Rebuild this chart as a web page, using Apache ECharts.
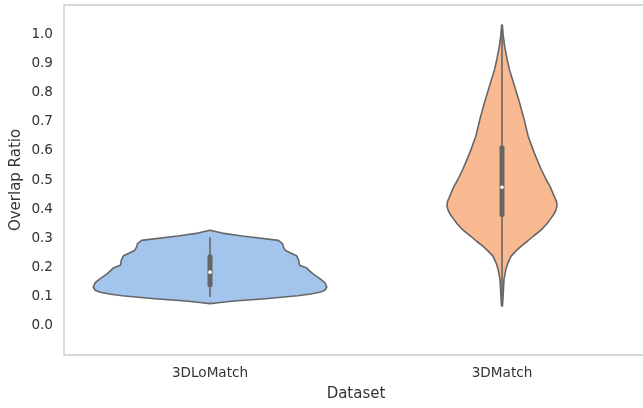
<!DOCTYPE html>
<html>
<head>
<meta charset="utf-8">
<script src="https://cdn.jsdelivr.net/npm/echarts@6/dist/echarts.min.js"></script>
<style>
html,body{margin:0;padding:0;background:#fff;}
#chart{width:643px;height:408px;}
</style>
</head>
<body>
<div id="chart"></div>
<script>
// ---- data ----
const categories = ['3DLoMatch', '3DMatch'];

// violin profiles: value (y) and relative density (half-width, 1 = widest)
const loMatchValues  = [0.076, 0.080, 0.085, 0.093, 0.103, 0.109, 0.116, 0.122, 0.133, 0.148, 0.162, 0.179, 0.198, 0.208, 0.225, 0.240, 0.250, 0.258, 0.270, 0.282, 0.293, 0.308, 0.318, 0.328];
const loMatchDensity = [0.000, 0.086, 0.207, 0.474, 0.750, 0.862, 0.948, 0.983, 1.000, 0.983, 0.940, 0.879, 0.828, 0.767, 0.759, 0.741, 0.690, 0.647, 0.629, 0.621, 0.586, 0.276, 0.103, 0.000];

const matchValues  = [0.068, 0.100, 0.159, 0.193, 0.215, 0.239, 0.256, 0.273, 0.290, 0.308, 0.322, 0.336, 0.350, 0.365, 0.380, 0.395, 0.410, 0.425, 0.440, 0.460, 0.479, 0.500, 0.536, 0.593, 0.650, 0.707, 0.764, 0.821, 0.878, 0.910, 0.935, 0.960, 1.000, 1.031];
const matchDensity = [0.004, 0.009, 0.017, 0.033, 0.050, 0.078, 0.118, 0.164, 0.218, 0.270, 0.315, 0.353, 0.385, 0.412, 0.440, 0.460, 0.471, 0.468, 0.452, 0.430, 0.410, 0.380, 0.336, 0.276, 0.224, 0.190, 0.151, 0.108, 0.064, 0.046, 0.034, 0.022, 0.009, 0.003];

// inner box statistics per category
const whiskerLow  = [0.099, 0.068];
const boxLow      = [0.133, 0.374];
const medians     = [0.184, 0.475];
const boxHigh     = [0.245, 0.618];
const whiskerHigh = [0.304, 1.031];

const yTickValues = [0.0, 0.1, 0.2, 0.3, 0.4, 0.5, 0.6, 0.7, 0.8, 0.9, 1.0];

// ---- styling ----
const fillColors = ['#a3c4ec', '#f9ba91'];
const edgeColor = '#666666';
const textColor = '#333333';
const FONT = 'DejaVu Sans';

const violinValues = [loMatchValues, matchValues];
const violinDensity = [loMatchDensity, matchDensity];

function renderViolin(params, api) {
  const i = api.value(0);
  const vals = violinValues[i];
  const dens = violinDensity[i];
  const band = api.size([1, 0])[0];
  const maxHalf = 0.4 * band;
  const right = [], left = [];
  for (let k = 0; k < vals.length; k++) {
    const p = api.coord([i, vals[k]]);
    right.push([p[0] + dens[k] * maxHalf, p[1]]);
    left.push([p[0] - dens[k] * maxHalf, p[1]]);
  }
  const pts = right.concat(left.reverse());
  const c = api.coord([i, medians[i]]);
  const cx = c[0];
  const wl = api.coord([i, whiskerLow[i]])[1];
  const wh = api.coord([i, whiskerHigh[i]])[1];
  const bl = api.coord([i, boxLow[i]])[1];
  const bh = api.coord([i, boxHigh[i]])[1];
  const boxW = 5;
  return {
    type: 'group',
    children: [
      { type: 'polygon', shape: { points: pts },
        style: { fill: fillColors[i], stroke: edgeColor, lineWidth: 1.6, lineJoin: 'round' } },
      { type: 'line', shape: { x1: cx, y1: wl, x2: cx, y2: wh },
        style: { stroke: edgeColor, lineWidth: 1.6 } },
      { type: 'rect', shape: { x: cx - boxW / 2, y: bh, width: boxW, height: bl - bh, r: 1.5 },
        style: { fill: edgeColor } },
      { type: 'circle', shape: { cx: cx, cy: c[1], r: 1.8 },
        style: { fill: '#ffffff' } }
    ]
  };
}

const chart = echarts.init(document.getElementById('chart'), null, { renderer: 'canvas' });
chart.setOption({
  animation: false,
  backgroundColor: '#ffffff',
  textStyle: { fontFamily: FONT },
  grid: { left: 64, top: 5, width: 584, height: 350, show: true,
          outerBoundsMode: 'none', containLabel: false,
          borderColor: '#cccccc', borderWidth: 1.3, backgroundColor: 'transparent' },
  xAxis: {
    type: 'category',
    data: categories,
    boundaryGap: true,
    name: 'Dataset',
    nameLocation: 'middle',
    nameGap: 32,
    nameTextStyle: { fontSize: 15, color: textColor, fontFamily: FONT },
    axisLine: { show: false },
    axisTick: { show: false },
    axisLabel: { fontSize: 13.6, color: textColor, margin: 11, fontFamily: FONT },
    splitLine: { show: false }
  },
  yAxis: {
    type: 'value',
    min: -0.1,
    max: 1.1,
    interval: 0.1,
    name: 'Overlap Ratio',
    nameLocation: 'middle',
    nameGap: 40,
    nameMoveOverlap: false,
    nameTextStyle: { fontSize: 15, color: textColor, fontFamily: FONT },
    axisLine: { show: false },
    axisTick: { show: false },
    axisLabel: {
      fontSize: 13.6, color: textColor, margin: 11, fontFamily: FONT,
      padding: [3, 0, 0, 0],
      customValues: yTickValues,
      formatter: function (v) { return Number(v).toFixed(1); }
    },
    splitLine: { show: false }
  },
  series: [{
    type: 'custom',
    renderItem: renderViolin,
    encode: { x: 0, y: 1 },
    data: [[0, 0.2], [1, 0.5]],
    clip: false
  }]
});
</script>
</body>
</html>
